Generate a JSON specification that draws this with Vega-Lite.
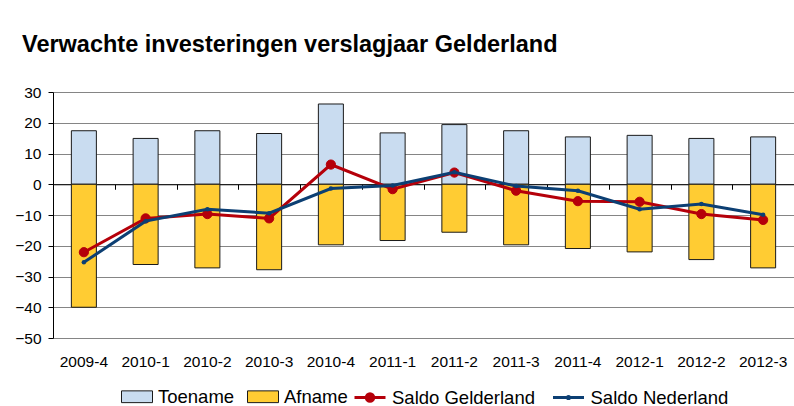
{
  "$schema": "https://vega.github.io/schema/vega-lite/v6.json",
  "autosize": {"type": "none"},
  "padding": {"left": 53, "top": 92, "right": 0, "bottom": 68},
  "width": 741,
  "height": 246,
  "background": "white",
  "title": {
    "text": "Verwachte investeringen verslagjaar Gelderland",
    "anchor": "start",
    "frame": "group",
    "dx": -31,
    "offset": 10,
    "baseline": "alphabetic",
    "font": "Liberation Sans",
    "fontSize": 23.5,
    "fontWeight": "bold",
    "color": "black"
  },
  "config": {
    "view": {"stroke": null},
    "axis": {
      "labelFont": "Liberation Sans",
      "labelFontSize": 15.5,
      "labelColor": "black",
      "labelOverlap": false,
      "labelBound": false,
      "title": null
    },
    "axisY": {
      "values": [-50, -40, -30, -20, -10, 0, 10, 20, 30],
      "labelOverlap": false,
      "grid": true, "gridColor": "#858585", "gridWidth": 1,
      "domain": true, "domainColor": "black",
      "ticks": true, "tickColor": "black", "tickSize": 5,
      "labelPadding": 7
    },
    "legend": {
      "orient": "none",
      "direction": "horizontal",
      "title": null,
      "labelFont": "Liberation Sans",
      "labelFontSize": 18.5,
      "labelColor": "black",
      "labelOffset": 5,
      "columnPadding": 10,
      "symbolSize": 961,
      "symbolOpacity": 1
    }
  },
  "data": {
    "values": [
      {"periode": "2009-4", "Toename": 17.4, "Afname": -40.0, "Gelderland": -22.1, "Nederland": -25.4},
      {"periode": "2010-1", "Toename": 14.9, "Afname": -26.1, "Gelderland": -11.1, "Nederland": -12.0},
      {"periode": "2010-2", "Toename": 17.4, "Afname": -27.2, "Gelderland": -9.7, "Nederland": -8.1},
      {"periode": "2010-3", "Toename": 16.5, "Afname": -27.8, "Gelderland": -11.1, "Nederland": -9.4},
      {"periode": "2010-4", "Toename": 26.1, "Afname": -19.7, "Gelderland": 6.4, "Nederland": -1.4},
      {"periode": "2011-1", "Toename": 16.7, "Afname": -18.3, "Gelderland": -1.6, "Nederland": -0.4},
      {"periode": "2011-2", "Toename": 19.4, "Afname": -15.6, "Gelderland": 3.8, "Nederland": 3.9},
      {"periode": "2011-3", "Toename": 17.4, "Afname": -19.7, "Gelderland": -2.1, "Nederland": -0.6},
      {"periode": "2011-4", "Toename": 15.4, "Afname": -20.9, "Gelderland": -5.5, "Nederland": -2.1},
      {"periode": "2012-1", "Toename": 15.9, "Afname": -22.0, "Gelderland": -5.7, "Nederland": -8.1},
      {"periode": "2012-2", "Toename": 14.9, "Afname": -24.5, "Gelderland": -9.7, "Nederland": -6.4},
      {"periode": "2012-3", "Toename": 15.4, "Afname": -27.2, "Gelderland": -11.6, "Nederland": -9.9}
    ]
  },
  "resolve": {"axis": {"x": "independent"}},
  "layer": [
    {
      "transform": [{"fold": ["Toename", "Afname"], "as": ["reeks", "waarde"]}],
      "mark": {"type": "bar", "width": {"band": 0.405}, "stroke": "#1a1a1a", "strokeWidth": 1},
      "encoding": {
        "x": {
          "field": "periode", "type": "ordinal", "sort": null,
          "scale": {"paddingInner": 0, "paddingOuter": 0},
          "axis": {"orient": "bottom", "labelAngle": 0, "ticks": false, "domain": false, "grid": false, "labelPadding": 16}
        },
        "y": {
          "field": "waarde", "type": "quantitative",
          "scale": {"domain": [-50, 30], "nice": false, "zero": false},
          "axis": {"values": [-50, -40, -30, -20, -10, 0, 10, 20, 30], "labelOverlap": false}
        },
        "fill": {
          "field": "reeks", "type": "nominal",
          "scale": {"domain": ["Toename", "Afname"], "range": ["#C9DCF0", "#FFCC33"]},
          "legend": {
            "legendX": 68,
            "legendY": 288.5,
            "symbolType": "M-1,-0.38H1V0.38H-1Z",
            "symbolStrokeColor": "#1a1a1a",
            "symbolStrokeWidth": 1
          }
        }
      }
    },
    {
      "mark": {"type": "line", "strokeWidth": 3, "point": {"filled": true, "fill": "#B5000A", "size": 85, "strokeWidth": 1, "opacity": 1}},
      "encoding": {
        "x": {
          "field": "periode", "type": "ordinal", "sort": null,
          "axis": {
            "orient": "bottom", "offset": -153.75, "labels": false, "grid": false,
            "domain": true, "domainColor": "black", "domainWidth": 1,
            "ticks": true, "tickBand": "extent", "tickSize": 5, "tickColor": "black"
          }
        },
        "y": {"field": "Gelderland", "type": "quantitative", "axis": {"values": [-50, -40, -30, -20, -10, 0, 10, 20, 30], "labelOverlap": false}},
        "stroke": {
          "datum": "Saldo Gelderland", "type": "nominal",
          "scale": {"domain": ["Saldo Gelderland"], "range": ["#B5000A"]},
          "legend": {
            "legendX": 300,
            "legendY": 288.5,
            "symbolType": "M-1,0H1M-0.24,0A0.24,0.24,0,1,0,0.24,0A0.24,0.24,0,1,0,-0.24,0Z",
            "symbolFillColor": "#B5000A",
            "symbolStrokeColor": "#B5000A",
            "symbolStrokeWidth": 3
          }
        }
      }
    },
    {
      "mark": {"type": "line", "strokeWidth": 3, "point": {"filled": true, "size": 20, "opacity": 1}},
      "encoding": {
        "x": {"field": "periode", "type": "ordinal", "sort": null, "axis": null},
        "y": {"field": "Nederland", "type": "quantitative", "axis": {"values": [-50, -40, -30, -20, -10, 0, 10, 20, 30], "labelOverlap": false}},
        "color": {
          "datum": "Saldo Nederland", "type": "nominal",
          "scale": {"domain": ["Saldo Nederland"], "range": ["#0C3F73"]},
          "legend": {
            "legendX": 498.5,
            "legendY": 288.5,
            "symbolType": "M-1,0H1M-0.07,0A0.07,0.07,0,1,0,0.07,0A0.07,0.07,0,1,0,-0.07,0Z",
            "symbolFillColor": "#0C3F73",
            "symbolStrokeColor": "#0C3F73",
            "symbolStrokeWidth": 3
          }
        }
      }
    }
  ]
}
